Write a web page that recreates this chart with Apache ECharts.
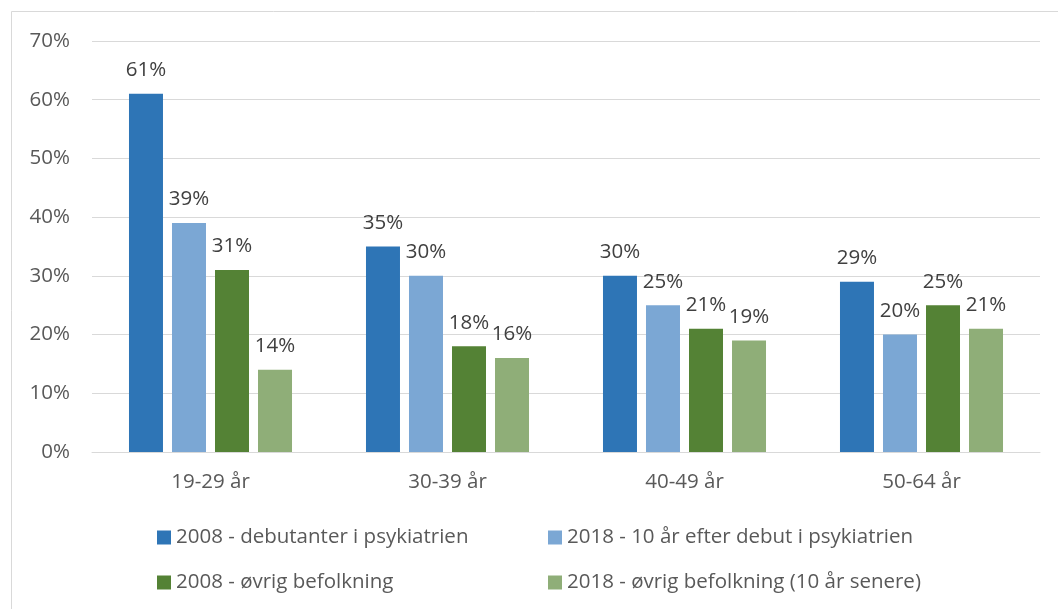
<!DOCTYPE html>
<html><head><meta charset="utf-8">
<script src="https://cdn.jsdelivr.net/npm/echarts@6/dist/echarts.min.js"></script>
<style>html,body{margin:0;padding:0;background:#fff}#c{width:1058px;height:609px}</style>
</head><body><div id="c"></div>
<script>
const categories = ['19-29 år', '30-39 år', '40-49 år', '50-64 år'];
const seriesNames = ['2008 - debutanter i psykiatrien', '2018 - 10 år efter debut i psykiatrien', '2008 - øvrig befolkning', '2018 - øvrig befolkning (10 år senere)'];
const s2008deb = [61, 35, 30, 29];
const s2018deb = [39, 30, 25, 20];
const s2008ovr = [31, 18, 21, 25];
const s2018ovr = [14, 16, 19, 21];
const yTicks = [0, 10, 20, 30, 40, 50, 60, 70];
const colors = ['#2E75B6', '#7BA7D4', '#548235', '#8FAE78'];

const font = 'Open Sans';
const txt = '#595959';
const fs = 20.5;
const values = [s2008deb, s2018deb, s2008ovr, s2018ovr];
const legendPos = [[157, 527], [548, 527], [157, 572], [548, 572]];

const chart = echarts.init(document.getElementById('c'), null, {renderer: 'canvas'});
chart.setOption({
  animation: false,
  backgroundColor: '#fff',
  graphic: [{type: 'rect', shape: {x: 11.5, y: 11.5, width: 1100, height: 700}, style: {fill: 'none', stroke: '#d9d9d9', lineWidth: 1}}],
  grid: {left: 92, right: 18, top: 41, bottom: 157, containLabel: false},
  legend: legendPos.map((p, i) => ({
    data: [seriesNames[i]], left: p[0], top: p[1], itemWidth: 14, itemHeight: 14, itemGap: 5,
    icon: 'rect', textStyle: {fontFamily: font, fontSize: fs, color: txt, lineHeight: 20}, padding: 0
  })),
  xAxis: {
    type: 'category', data: categories,
    axisLine: {lineStyle: {color: '#d9d9d9', width: 1}},
    axisTick: {show: false},
    axisLabel: {fontFamily: font, fontSize: fs, color: txt, margin: 20}
  },
  yAxis: {
    type: 'value', min: yTicks[0], max: yTicks[yTicks.length - 1], interval: 10,
    axisLine: {show: false}, axisTick: {show: false},
    splitLine: {lineStyle: {color: '#d9d9d9', width: 1}},
    axisLabel: {fontFamily: font, fontSize: fs, color: txt, margin: 22, formatter: v => v + '%'}
  },
  series: values.map((d, i) => ({
    name: seriesNames[i], type: 'bar', data: d, barWidth: 34, barGap: '26.5%',
    itemStyle: {color: colors[i]},
    label: {show: true, position: 'top', distance: 13, formatter: p => p.value + '%', fontFamily: font, fontSize: fs, color: '#404040'}
  }))
});
</script></body></html>
